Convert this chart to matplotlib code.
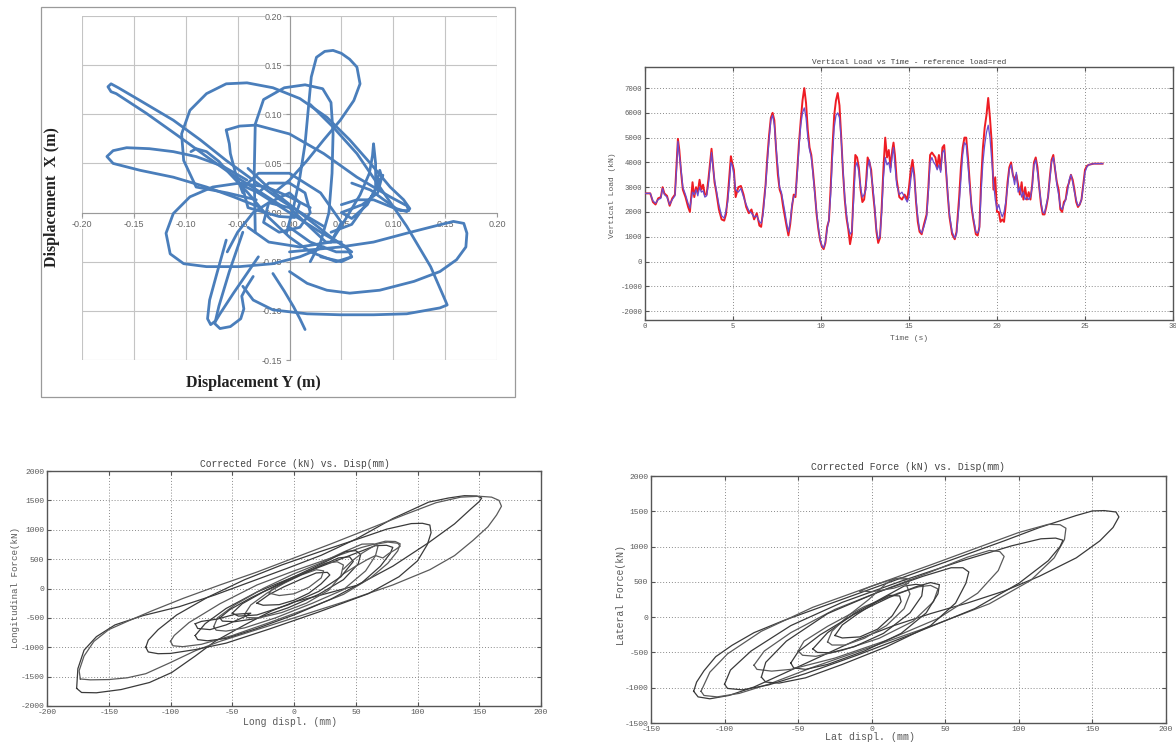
import matplotlib
matplotlib.use("Agg")
import matplotlib.pyplot as plt
from matplotlib.patches import Rectangle
import numpy as np

plt.rcParams["axes.unicode_minus"] = False

# ---------------- Panel 1 data: orbit strokes (Displacement Y, Displacement X) in m
orbit_s1 = [(0.033,-0.014),(0.017,-0.004),(-0.009,0.013),(-0.035,0.033),(-0.061,0.053),(-0.086,0.074),
            (-0.112,0.094),(-0.144,0.114),(-0.165,0.127),(-0.172,0.131),(-0.175,0.128),(-0.172,0.123),
            (-0.167,0.121),(-0.138,0.101),(-0.106,0.077),(-0.080,0.057),(-0.057,0.040),(-0.03,0.022),
            (-0.005,0.005)]
orbit_s2 = [(-0.041,0.033),(-0.064,0.047),(-0.090,0.057),(-0.112,0.062),(-0.135,0.065),(-0.157,0.066),
            (-0.170,0.063),(-0.176,0.057),(-0.170,0.050),(-0.144,0.043),(-0.112,0.036),(-0.080,0.026),
            (-0.054,0.016),(-0.03,0.006)]
orbit_s3 = [(-0.032,0.013),(-0.060,0.020),(-0.090,0.026),(-0.102,0.053),(-0.104,0.080),(-0.096,0.104),
            (-0.080,0.121),(-0.061,0.131),(-0.041,0.132),(-0.016,0.127),(0.010,0.116),(0.036,0.097),
            (0.058,0.074),(0.078,0.050),(0.097,0.026),(0.110,0.013),(0.116,0.004),(0.113,0.001),
            (0.103,0.004),(0.091,0.013),(0.078,0.023),(0.06,0.03)]
orbit_s4 = [(-0.003,-0.021),(0.004,0.006),(0.010,0.036),(0.015,0.070),(0.018,0.104),(0.021,0.138),
            (0.026,0.158),(0.034,0.164),(0.042,0.165),(0.050,0.162),(0.058,0.156),(0.065,0.148),
            (0.068,0.131),(0.062,0.114),(0.049,0.094),(0.033,0.074),(0.017,0.053),(0.0,0.033),
            (-0.015,0.02)]
orbit_s5 = [(-0.033,-0.02),(-0.034,0.04),(-0.033,0.09),(-0.025,0.115),(-0.005,0.127),(0.015,0.130),
            (0.032,0.126),(0.040,0.112),(0.042,0.08),(0.041,0.04),(0.038,0.0),(0.030,-0.03),(0.02,-0.05)]
orbit_s6 = [(0.0,-0.04),(0.049,-0.035),(0.081,-0.030),(0.113,-0.021),(0.139,-0.014),(0.158,-0.009),
            (0.168,-0.011),(0.171,-0.021),(0.170,-0.035),(0.161,-0.048),(0.145,-0.060),(0.120,-0.070),
            (0.087,-0.079),(0.058,-0.082),(0.036,-0.079),(0.017,-0.072),(0.0,-0.06)]
orbit_s7 = [(0.02,0.11),(0.042,0.087),(0.065,0.060),(0.087,0.026),(0.113,-0.014),(0.136,-0.055),
            (0.150,-0.089),(0.152,-0.094),(0.145,-0.097),(0.113,-0.103),(0.081,-0.104),(0.049,-0.104),
            (0.017,-0.103),(-0.016,-0.099),(-0.035,-0.089),(-0.045,-0.075)]
orbit_s8 = [(0.033,-0.035),(0.010,-0.045),(-0.016,-0.052),(-0.048,-0.055),(-0.080,-0.055),(-0.102,-0.052),
            (-0.115,-0.042),(-0.119,-0.021),(-0.112,-0.001),(-0.096,0.016),(-0.074,0.026),(-0.048,0.030),
            (-0.022,0.026),(0.0,0.016),(0.02,0.005)]
orbit_s9 = [(-0.061,-0.028),(-0.070,-0.062),(-0.077,-0.089),(-0.079,-0.108),(-0.076,-0.114),(-0.071,-0.110),
            (-0.067,-0.103),(-0.054,-0.082),(-0.041,-0.062),(-0.03,-0.045)]
orbit_s10 = [(-0.045,-0.02),(-0.058,-0.06),(-0.068,-0.095),(-0.072,-0.113),(-0.067,-0.118),(-0.057,-0.116),
             (-0.047,-0.108),(-0.044,-0.098),(-0.046,-0.085),(-0.041,-0.075),(-0.035,-0.065)]
orbit_s11 = [(-0.016,-0.062),(-0.005,-0.08),(0.004,-0.096),(0.010,-0.108),(0.015,-0.119)]
orbit_s12 = [(-0.061,0.084),(-0.048,0.088),(-0.032,0.089),(0.0,0.080),(0.033,0.060),(0.065,0.036),
             (0.097,0.016),(0.113,0.007),(0.115,0.002),(0.107,0.002),(0.081,0.013),(0.065,0.013),
             (0.05,0.008)]
orbit_s13 = [(-0.061,0.084),(-0.058,0.070),(-0.057,0.060),(-0.052,0.040),(-0.045,0.020)]
orbit_s14 = [(0.04,-0.03),(0.055,-0.005),(0.068,0.018),(0.077,0.040),(0.080,0.058),(0.081,0.070),
             (0.083,0.050),(0.083,0.026),(0.087,0.043),(0.089,0.036),(0.085,0.020),(0.07,0.008),
             (0.05,0.0),(0.06,-0.006),(0.075,0.008),(0.085,0.028),(0.09,0.038),(0.08,0.018),
             (0.06,-0.012),(0.04,-0.02)]
orbit_s15 = [(-0.03,0.02),(-0.02,0.03),(0.0,0.03),(0.015,0.02),(0.02,0.0),(0.01,-0.015),(-0.01,-0.02),
             (-0.025,-0.01),(-0.02,0.01),(0.0,0.02),(0.01,0.01),(0.005,-0.005),(-0.01,-0.004),
             (-0.04,0.005),(-0.045,0.025),(-0.03,0.04),(0.0,0.04),(0.03,0.02),(0.05,-0.01),(0.04,-0.03),
             (0.01,-0.035),(-0.02,-0.03),(-0.04,-0.015)]
orbit_s16 = [(-0.095,0.062),(-0.090,0.065),(-0.080,0.062),(-0.068,0.052),(-0.058,0.040),(-0.040,0.020),
             (-0.020,-0.005),(0.0,-0.025),(0.02,-0.04),(0.045,-0.05),(0.06,-0.045)]
orbit_s17 = [(-0.05,0.03),(-0.03,0.02),(0.0,0.0),(0.03,-0.02),(0.055,-0.035),(0.06,-0.045),(0.05,-0.05),
             (0.03,-0.045)]
orbit_s18 = [(-0.04,0.045),(-0.02,0.025),(0.01,0.0),(0.04,-0.025),(0.06,-0.04),(0.045,-0.04),(0.02,-0.03),
             (0.0,-0.015)]
orbit_s19 = [(-0.06,-0.04),(-0.05,-0.02),(-0.035,0.0),(-0.02,0.01),(0.0,0.005),(0.02,-0.015),(0.035,-0.03),
             (0.05,-0.03)]
orbit_strokes = [orbit_s1, orbit_s2, orbit_s3, orbit_s4, orbit_s5, orbit_s6, orbit_s7, orbit_s8, orbit_s9,
                 orbit_s10, orbit_s11, orbit_s12, orbit_s13, orbit_s14, orbit_s15, orbit_s16, orbit_s17,
                 orbit_s18, orbit_s19]

# ---------------- Panel 2 data: vertical load vs time
time_s = [0.0,0.3,0.45,0.6,0.75,0.9,1.0,1.1,1.25,1.4,1.55,1.7,1.8,1.87,1.95,2.05,2.15,2.3,2.45,2.55,2.7,2.8,2.9,3.0,
          3.1,3.2,3.3,3.4,3.5,3.6,3.7,3.78,3.85,3.95,4.05,4.2,4.35,4.5,4.6,4.7,4.8,4.88,4.95,5.05,5.15,5.3,5.45,
          5.6,5.75,5.9,6.05,6.2,6.35,6.5,6.6,6.7,6.85,6.95,7.05,7.15,7.25,7.35,7.45,7.55,7.65,7.75,7.85,7.95,
          8.05,8.15,8.25,8.35,8.45,8.55,8.65,8.75,8.85,8.95,9.05,9.15,9.25,9.35,9.45,9.55,9.65,9.75,9.85,9.95,
          10.05,10.15,10.25,10.35,10.45,10.55,10.65,10.75,10.85,10.95,11.05,11.15,11.25,11.35,11.45,11.55,
          11.65,11.75,11.85,11.95,12.05,12.15,12.25,12.35,12.45,12.55,12.65,12.75,12.85,12.95,13.05,13.15,
          13.25,13.35,13.45,13.55,13.65,13.75,13.85,13.95,14.05,14.12,14.2,14.3,14.45,14.6,14.75,14.9,15.0,
          15.1,15.2,15.3,15.4,15.5,15.6,15.72,15.85,16.0,16.1,16.2,16.3,16.4,16.5,16.6,16.7,16.8,16.9,17.0,
          17.1,17.2,17.3,17.45,17.6,17.7,17.85,17.95,18.05,18.15,18.25,18.35,18.45,18.55,18.65,18.8,18.9,
          19.0,19.1,19.2,19.3,19.4,19.5,19.6,19.7,19.8,19.9,20.0,20.1,20.2,20.3,20.4,20.5,20.6,20.7,20.8,
          20.9,21.0,21.1,21.2,21.3,21.4,21.5,21.6,21.7,21.8,21.9,22.0,22.1,22.2,22.3,22.4,22.5,22.6,22.7,
          22.8,22.9,23.0,23.1,23.2,23.3,23.4,23.5,23.6,23.7,23.8,23.9,24.0,24.1,24.2,24.3,24.4,24.5,24.6,
          24.7,24.8,24.9,25.0,25.1,25.2,25.5,26.0]
load_measured = [2750,2750,2450,2350,2500,2550,2950,2700,2600,2300,2500,2650,3800,4850,4300,3700,3000,2700,2350,
                 2150,2800,2700,2900,2650,3000,2800,2850,2600,2650,3100,3800,4400,3900,3300,2900,2300,1850,1750,
                 2050,2400,3200,4000,3900,3500,2900,2800,2950,2600,2300,2050,1950,1800,1850,1600,1550,1850,3000,
                 4000,4900,5700,5900,5500,4600,3800,3000,2800,2400,2000,1550,1200,1600,2300,2600,2700,3500,4600,
                 5500,6000,6200,5800,5000,4500,4200,3500,2700,2000,1400,900,650,550,800,1300,1700,2700,4200,5400,
                 5900,6000,5800,4900,3700,2600,1900,1400,1100,1200,2400,3800,4000,3600,3000,2600,2700,2900,3800,
                 4100,3500,3000,2200,1300,900,1000,2000,3400,4200,3900,4000,3600,4300,4600,3900,3100,2700,2800,
                 2600,2400,2600,3300,3800,3400,2500,1800,1300,1150,1400,1800,2800,4000,4200,4000,3900,3700,3900,
                 3600,4400,4500,3800,2800,1900,1200,950,1100,2300,3300,4300,4800,4700,3900,3000,2300,1800,1200,
                 1150,1300,2800,4000,4700,5200,5500,5000,4100,3200,2500,2100,2300,2000,1800,2000,2400,3000,3700,
                 3900,3500,3100,3600,2800,3000,2600,2800,2500,2600,2500,2600,3000,3900,4100,3600,3000,2400,2000,
                 1950,2300,2600,3300,4000,4200,3800,3100,2700,2200,2100,2300,2500,2800,3300,3500,3200,2800,2500,
                 2250,2300,2500,3000,3600,3800,3900,3950,3950]
load_reference = [2750,2750,2400,2300,2550,2600,3000,2750,2650,2250,2550,2700,4000,4950,4500,3600,2900,2600,2200,
                  2000,3200,2600,3000,2800,3300,2900,3100,2700,2700,3300,4000,4550,4000,3200,2800,2100,1700,1650,
                  1900,2600,3500,4250,4000,3700,2600,3000,3050,2700,2200,1950,2100,1700,1950,1450,1400,2000,3100,
                  4200,5100,5800,6000,5700,4500,3500,2900,2700,2200,1800,1400,1050,1500,2200,2700,2600,3700,4800,
                  5700,6500,7000,6400,5300,4600,4300,3600,2800,1900,1300,850,600,500,750,1400,1650,3000,4600,5900,
                  6500,6800,6300,5000,3600,2500,1750,1300,700,1100,2800,4300,4200,3800,2900,2400,2500,3100,4200,
                  4000,3700,2800,2100,1200,750,950,2200,3800,5000,4200,4500,3800,4500,4800,4300,3300,2600,2500,
                  2700,2500,3000,3700,4100,3500,2400,1600,1200,1100,1500,1900,3000,4300,4400,4300,4200,3800,4300,
                  3700,4600,4700,3700,2700,1800,1100,900,1200,2600,3800,4600,5000,5000,4200,3200,2200,1700,1100,
                  1050,1400,3300,4600,5400,5900,6600,5800,4800,2900,3400,2000,2000,1600,1700,1600,2300,3200,3800,
                  4000,3500,3300,3500,3100,2700,3200,2500,3000,2500,2800,2500,3100,4000,4200,3800,3000,2300,1900,
                  1900,2200,2600,3400,4100,4300,3700,3200,2900,2100,2000,2400,2500,3000,3200,3500,3300,2900,2400,
                  2200,2300,2500,3100,3700,3850,3900,3950,3950]

# ---------------- Panel 3 data: longitudinal force (kN) vs long displacement (mm)
long_loop_a = [(-176,-1700),(-172,-1770),(-160,-1775),(-140,-1720),(-117,-1600),(-99,-1430),(-80,-1150),
               (-64,-900),(-40,-620),(-18,-380),(0,-230),(22,-110),(51,54),(80,380),(109,780),(130,1100),
               (143,1350),(150,1480),(152,1540),(148,1575),(138,1580),(125,1540),(109,1470),(80,1190),
               (51,850),(22,565),(-6,340),(-35,115),(-64,-110),(-93,-310),(-122,-460),(-145,-620),
               (-160,-820),(-170,-1050),(-175,-1365),(-176,-1700)]
long_loop_b = [(-173,-1540),(-165,-1555),(-150,-1550),(-135,-1520),(-120,-1450),(-100,-1260),(-80,-1060),
               (-60,-900),(-30,-700),(0,-500),(40,-230),(80,60),(110,320),(130,560),(145,820),(157,1050),
               (164,1250),(168,1400),(166,1500),(160,1555),(150,1570),(135,1555),(115,1460),(90,1260),
               (60,1010),(30,760),(0,520),(-30,280),(-60,60),(-90,-170),(-115,-380),(-135,-560),
               (-150,-700),(-162,-900),(-170,-1150),(-174,-1400),(-173,-1540)]
long_loop_c = [(-120,-1000),(-118,-1080),(-110,-1110),(-100,-1105),(-80,-1040),(-55,-930),(-20,-690),
               (20,-400),(60,-90),(85,200),(100,470),(108,750),(111,950),(110,1080),(104,1110),(95,1105),
               (75,1010),(50,830),(20,620),(-10,400),(-40,150),(-70,-150),(-95,-450),(-110,-700),
               (-118,-880),(-120,-1000)]
long_loop_d = [(-100,-900),(-98,-975),(-90,-990),(-75,-950),(-50,-800),(-20,-580),(10,-350),(40,-100),
               (62,180),(76,430),(84,640),(86,760),(82,800),(74,805),(55,700),(30,520),(0,300),(-30,60),
               (-60,-260),(-85,-580),(-97,-800),(-100,-900)]
long_loop_e = [(-80,-800),(-78,-870),(-70,-890),(-55,-850),(-30,-680),(0,-450),(30,-180),(55,100),
               (70,380),(78,600),(80,700),(75,735),(66,730),(50,600),(25,400),(0,200),(-30,-60),
               (-55,-340),(-72,-600),(-80,-800)]
long_loop_f = [(-65,-650),(-63,-710),(-55,-725),(-40,-670),(-15,-500),(15,-250),(40,-20),(58,300),
               (66,560),(68,720),(64,760),(55,755),(40,620),(20,420),(0,250),(-25,0),(-48,-280),
               (-62,-500),(-65,-650)]
long_loop_g = [(-60,-500),(-58,-555),(-48,-565),(-30,-510),(-5,-330),(20,-100),(40,150),(52,420),
               (54,580),(50,645),(42,630),(28,480),(10,300),(-10,100),(-35,-160),(-52,-360),(-60,-500)]
long_loop_h = [(-40,-440),(-38,-495),(-28,-500),(-10,-410),(10,-250),(28,-30),(38,220),(40,400),
               (35,455),(25,430),(12,300),(-5,130),(-22,-80),(-35,-280),(-40,-440)]
long_loop_i = [(-30,-250),(-25,-285),(-12,-275),(0,-200),(12,-80),(22,80),(29,230),(27,275),(18,265),
               (6,160),(-8,30),(-20,-100),(-30,-250)]
long_loop_j = [(40,250),(50,380),(60,500),(66,560),(72,520),(77,600),(82,660),(86,720),(84,770),
               (76,790),(68,760),(62,690),(55,600),(47,470),(40,330)]
long_loop_k = [(-80,-600),(-78,-680),(-68,-700),(-55,-620),(-40,-480),(-35,-420),(-48,-440),(-62,-520),
               (-75,-560),(-80,-600)]
long_loop_l = [(-20,-80),(-12,-120),(0,-90),(12,20),(22,180),(24,300),(18,320),(6,230),(-8,90),
               (-18,-20),(-20,-80)]
long_loop_m = [(-50,-420),(-45,-470),(-30,-450),(-5,-280),(20,-50),(38,200),(48,460),(45,540),(36,520),
               (20,370),(0,180),(-25,-60),(-42,-260),(-50,-420)]
long_loops = [long_loop_a, long_loop_b, long_loop_c, long_loop_d, long_loop_e, long_loop_f, long_loop_g,
              long_loop_h, long_loop_i, long_loop_j, long_loop_k, long_loop_l, long_loop_m]

# ---------------- Panel 4 data: lateral force (kN) vs lateral displacement (mm)
lat_loop_a = [(-121,-1050),(-118,-1130),(-110,-1157),(-97,-1110),(-80,-990),(-60,-800),(-35,-560),
              (-10,-320),(15,-120),(40,50),(65,200),(90,370),(114,580),(139,840),(155,1080),(164,1270),
              (168,1420),(166,1490),(158,1510),(150,1505),(139,1440),(114,1270),(90,1081),(65,893),
              (40,705),(15,516),(-10,328),(-35,140),(-60,-49),(-80,-220),(-95,-400),(-106,-560),
              (-114,-760),(-119,-920),(-121,-1050)]
lat_loop_b = [(-116,-1050),(-114,-1110),(-105,-1130),(-90,-1080),(-70,-950),(-40,-710),(0,-420),
              (40,-130),(80,190),(108,520),(124,840),(131,1100),(132,1260),(128,1310),(120,1315),
              (100,1200),(70,970),(40,740),(0,440),(-40,140),(-75,-200),(-98,-520),(-110,-780),(-116,-1050)]
lat_loop_c = [(-100,-950),(-98,-1010),(-88,-1030),(-70,-960),(-45,-800),(-10,-540),(30,-220),(70,120),
              (100,480),(120,800),(128,1000),(130,1090),(125,1120),(115,1110),(95,1010),(60,790),
              (20,510),(-20,210),(-55,-120),(-82,-480),(-96,-750),(-100,-950)]
lat_loop_d = [(-80,-680),(-78,-740),(-68,-765),(-55,-740),(-25,-580),(10,-330),(45,-20),(72,340),
              (86,660),(90,860),(87,930),(80,945),(65,850),(40,640),(10,400),(-25,110),(-55,-220),
              (-73,-480),(-80,-680)]
lat_loop_e = [(-75,-850),(-72,-920),(-63,-935),(-45,-860),(-20,-670),(10,-420),(40,-120),(57,200),
              (64,480),(66,640),(62,700),(54,700),(35,580),(5,360),(-30,50),(-58,-340),(-72,-640),(-75,-850)]
lat_loop_f = [(-50,-480),(-47,-540),(-38,-555),(-20,-470),(5,-300),(28,-60),(42,220),(45,400),(40,450),
              (32,430),(18,340),(-5,150),(-30,-130),(-46,-340),(-50,-480)]
lat_loop_g = [(-40,-450),(-37,-500),(-28,-505),(-12,-420),(8,-230),(26,60),(34,300),(35,450),(30,465),
              (22,440),(8,280),(-12,50),(-30,-220),(-40,-450)]
lat_loop_h = [(-30,-350),(-27,-395),(-18,-395),(-5,-300),(10,-120),(22,120),(26,330),(22,540),(16,550),
              (10,480),(-2,250),(-16,20),(-27,-200),(-30,-350)]
lat_loop_i = [(-25,-260),(-20,-295),(-8,-280),(4,-170),(14,20),(20,220),(19,300),(12,310),(2,200),
              (-10,40),(-20,-110),(-25,-260)]
lat_loop_j = [(-8,370),(0,440),(10,510),(20,560),(26,540),(25,480),(15,410),(0,360),(-8,370)]
lat_loop_k = [(-55,-650),(-53,-720),(-45,-740),(-30,-670),(-5,-480),(20,-230),(37,60),(45,330),(46,460),
              (40,490),(30,430),(12,280),(-12,40),(-35,-250),(-50,-490),(-55,-650)]
lat_loops = [lat_loop_a, lat_loop_b, lat_loop_c, lat_loop_d, lat_loop_e, lat_loop_f, lat_loop_g, lat_loop_h,
             lat_loop_i, lat_loop_j, lat_loop_k]

# ---------------- figure
W, H = 1176, 742
fig = plt.figure(figsize=(W / 100, H / 100), dpi=100)
fig.patch.set_facecolor("white")


def fx(px):
    return px / W


def fy(py):
    return 1 - py / H


def ax_at(left, top, right, bottom):
    return fig.add_axes([fx(left), fy(bottom), fx(right - left), (bottom - top) / H])


MONO = "Liberation Mono"
TICKC = "#5a5a5a"

# ---------- Panel 1
fig.patches.append(Rectangle((fx(41), fy(397)), fx(515 - 41), (397 - 7) / H, transform=fig.transFigure,
                             fill=False, edgecolor="#9a9a9a", linewidth=0.9))
ax1 = ax_at(82, 16, 497, 360)
ax1.set_axisbelow(True)
ax1.set_xlim(-0.20, 0.20)
ax1.set_ylim(-0.15, 0.20)
xt = [-0.20, -0.15, -0.10, -0.05, 0.0, 0.05, 0.10, 0.15, 0.20]
yt = [-0.15, -0.10, -0.05, 0.0, 0.05, 0.10, 0.15, 0.20]
for v in xt:
    ax1.axvline(v, color="#c4c4c4", lw=0.8, zorder=0)
for v in yt:
    ax1.axhline(v, color="#c4c4c4", lw=0.8, zorder=0)
for side in ["top", "right"]:
    ax1.spines[side].set_visible(False)
ax1.spines["left"].set_position(("data", 0))
ax1.spines["bottom"].set_position(("data", 0))
ax1.spines["left"].set_color("#9a9a9a")
ax1.spines["bottom"].set_color("#9a9a9a")
ax1.set_xticks(xt)
ax1.set_yticks(yt)
ax1.set_xticklabels([f"{v:.2f}" for v in xt])
ax1.set_yticklabels([f"{v:.2f}" for v in yt])
ax1.tick_params(axis="both", length=3, color="#9a9a9a", labelsize=6.5, labelcolor="#666666", pad=2)
for lab in ax1.get_xticklabels() + ax1.get_yticklabels():
    lab.set_fontfamily("Liberation Sans")
    lab.set_bbox(dict(facecolor="white", edgecolor="none", pad=0.3))
for stroke in orbit_strokes:
    arr = np.array(stroke)
    ax1.plot(arr[:, 0], arr[:, 1], color="#4a7ebb", lw=2.0, solid_joinstyle="round",
             solid_capstyle="round", zorder=3)
fig.text(fx(52), fy(197), "Displacement  X (m)", rotation=90, ha="center", va="center",
         family="Liberation Serif", weight="bold", fontsize=11.5, color="#222222")
fig.text(fx(253), fy(383), "Displacement Y (m)", ha="center", va="center",
         family="Liberation Serif", weight="bold", fontsize=11.5, color="#222222")


def matlab_axes(ax, xlim, ylim, xticks, yticks):
    ax.set_xlim(*xlim)
    ax.set_ylim(*ylim)
    ax.set_xticks(xticks)
    ax.set_yticks(yticks)
    ax.grid(True, linestyle=(0, (1, 2)), color="#8a8a8a", lw=0.7)
    ax.tick_params(direction="in", length=3, labelsize=5.8, labelcolor=TICKC, color="#555555", pad=2,
                   top=True, right=True)
    for lab in ax.get_xticklabels() + ax.get_yticklabels():
        lab.set_fontfamily(MONO)
    for s in ax.spines.values():
        s.set_color("#555555")
        s.set_linewidth(1.0)


# ---------- Panel 2
ax2 = ax_at(645, 67, 1173, 320)
matlab_axes(ax2, (0, 30), (-2360, 7850), [0, 5, 10, 15, 20, 25, 30],
            [-2000, -1000, 0, 1000, 2000, 3000, 4000, 5000, 6000, 7000])
ax2.tick_params(labelsize=5.2)
ax2.plot(time_s, load_reference, color="#ee1c24", lw=1.4, zorder=3)
ax2.plot(time_s, load_measured, color="#6a4ccf", lw=0.9, zorder=4)
fig.text(fx(909), fy(62), "Vertical Load vs Time - reference load=red", ha="center", va="center",
         family=MONO, fontsize=5.6, color="#444444")
fig.text(fx(612), fy(195), "Vertical Load (kN)", rotation=90, ha="center", va="center",
         family=MONO, fontsize=5.8, color=TICKC)
fig.text(fx(909), fy(338), "Time (s)", ha="center", va="center", family=MONO, fontsize=5.8, color=TICKC)

# ---------- Panel 3
ax3 = ax_at(47, 471, 541, 706)
matlab_axes(ax3, (-200, 200), (-2000, 2000), [-200, -150, -100, -50, 0, 50, 100, 150, 200],
            [-2000, -1500, -1000, -500, 0, 500, 1000, 1500, 2000])
for i, loop in enumerate(long_loops):
    arr = np.array(loop)
    ax3.plot(arr[:, 0], arr[:, 1], color="#3a3a3a" if i % 2 == 0 else "#5a5a5a", lw=0.9,
             solid_joinstyle="round", zorder=3)
fig.text(fx(295), fy(464), "Corrected Force (kN) vs. Disp(mm)", ha="center", va="center",
         family=MONO, fontsize=6.9, color="#444444")
fig.text(fx(16), fy(588), "Longitudinal Force(kN)", rotation=90, ha="center", va="center",
         family=MONO, fontsize=6.6, color=TICKC)
fig.text(fx(290), fy(722), "Long displ. (mm)", ha="center", va="center", family=MONO, fontsize=7,
         color=TICKC)

# ---------- Panel 4
ax4 = ax_at(651, 476, 1166, 723)
matlab_axes(ax4, (-150, 200), (-1500, 2000), [-150, -100, -50, 0, 50, 100, 150, 200],
            [-1500, -1000, -500, 0, 500, 1000, 1500, 2000])
for i, loop in enumerate(lat_loops):
    arr = np.array(loop)
    ax4.plot(arr[:, 0], arr[:, 1], color="#3a3a3a" if i % 2 == 0 else "#5a5a5a", lw=0.9,
             solid_joinstyle="round", zorder=3)
fig.text(fx(908), fy(467), "Corrected Force (kN) vs. Disp(mm)", ha="center", va="center",
         family=MONO, fontsize=7.1, color="#444444")
fig.text(fx(621), fy(595), "Lateral Force(kN)", rotation=90, ha="center", va="center",
         family=MONO, fontsize=7, color=TICKC)
fig.text(fx(870), fy(737), "Lat displ. (mm)", ha="center", va="center", family=MONO, fontsize=7.2,
         color=TICKC)

fig.savefig("out.png", dpi=100, facecolor="white")
